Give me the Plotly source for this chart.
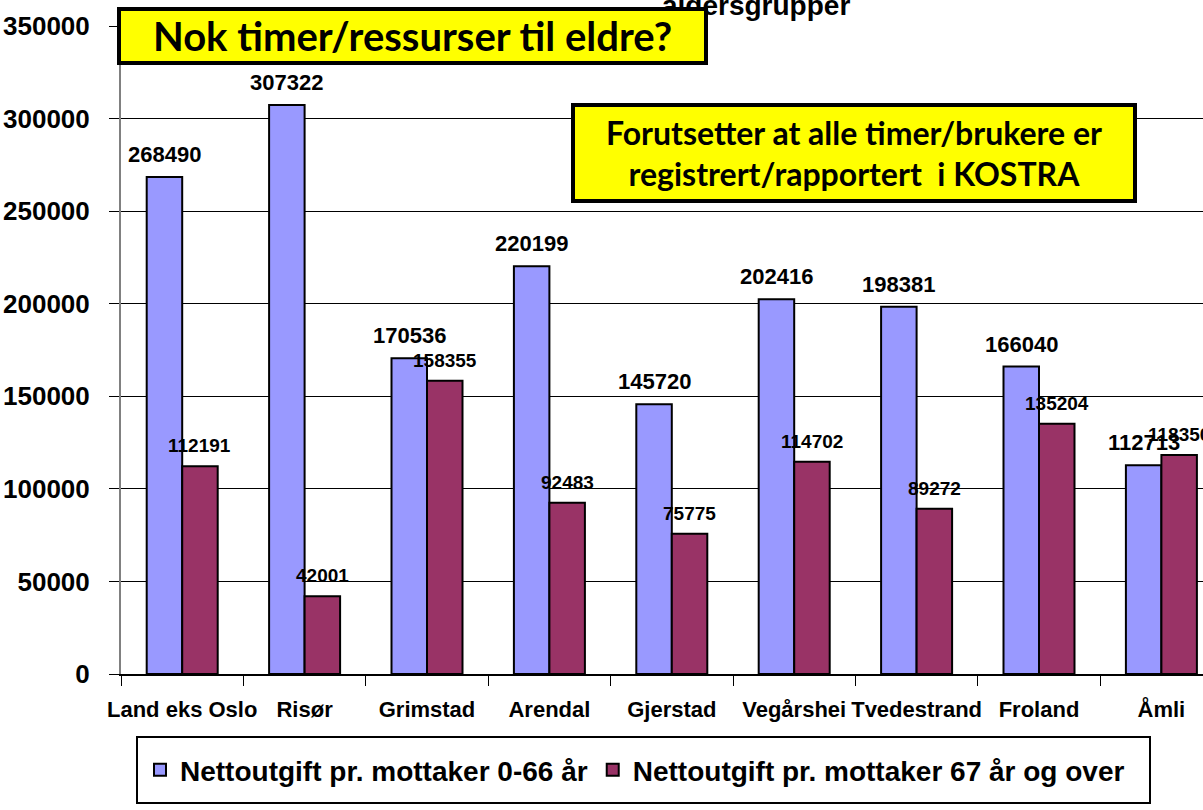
import plotly.graph_objects as go

categories = ["Land eks Oslo", "Risør", "Grimstad", "Arendal", "Gjerstad",
              "Vegårshei", "Tvedestrand", "Froland", "Åmli"]
under67 = [268490, 307322, 170536, 220199, 145720, 202416, 198381, 166040, 112713]
over67 = [112191, 42001, 158355, 92483, 75775, 114702, 89272, 135204, 118350]
series_names = ["Nettoutgift pr. mottaker 0-66 år", "Nettoutgift pr. mottaker 67 år og over"]
y_ticks = [0, 50000, 100000, 150000, 200000, 250000, 300000, 350000]

BLUE = "#9999FF"
RED = "#993366"
FONT = "Liberation Sans"
BARGAP = 0.42

W, H = 1203, 810
L, R, T, B = 121, 0, 26, 136
plot_w = W - L - R
plot_h = H - T - B
cat_px = 122.4


def px_x(px):
    return (px - L) / plot_w


def px_y(py):
    return (H - B - py) / plot_h


fig = go.Figure()
fig.add_trace(go.Bar(x=categories, y=under67, name=series_names[0],
                     marker=dict(color=BLUE, line=dict(color="black", width=2))))
fig.add_trace(go.Bar(x=categories, y=over67, name=series_names[1],
                     marker=dict(color=RED, line=dict(color="black", width=2))))

annotations = []
off = (1 - BARGAP) / 4
for i, v in enumerate(under67):
    annotations.append(dict(x=i - off, y=v, xref="x", yref="y", text=str(v),
                            showarrow=False, yanchor="bottom", yshift=8,
                            font=dict(family=FONT, size=22, color="black", weight="bold")))
for i, v in enumerate(over67):
    annotations.append(dict(x=i + off, y=v, xref="x", yref="y", text=str(v),
                            showarrow=False, yanchor="bottom", yshift=8,
                            font=dict(family=FONT, size=19, color="black", weight="bold")))

# partially visible chart title at the very top
annotations.append(dict(x=px_x(852), y=px_y(23), xref="paper", yref="paper",
                        text="aldersgrupper", showarrow=False,
                        xanchor="right", yanchor="bottom",
                        font=dict(family=FONT, size=28, color="black", weight="bold")))
# yellow boxes
annotations.append(dict(x=px_x(117), y=px_y(7), xref="paper", yref="paper",
                        text="Nok timer/ressurser til eldre?", showarrow=False,
                        xanchor="left", yanchor="top", width=583, height=50,
                        bgcolor="#FFFF00", bordercolor="black", borderwidth=4, borderpad=0,
                        font=dict(family="Lato", size=40, color="black", weight="bold")))
annotations.append(dict(x=px_x(571), y=px_y(103), xref="paper", yref="paper",
                        text="Forutsetter at alle timer/brukere er<br>registrert/rapportert  i KOSTRA",
                        showarrow=False, xanchor="left", yanchor="top", width=558, height=92,
                        bgcolor="#FFFF00", bordercolor="black", borderwidth=4, borderpad=0,
                        font=dict(family="Lato", size=32, color="black", weight="bold")))

shapes = [dict(type="rect", xref="paper", yref="paper",
               x0=px_x(137), x1=px_x(1150), y0=px_y(803), y1=px_y(737),
               line=dict(color="black", width=2), fillcolor="rgba(0,0,0,0)")]

fig.update_layout(
    width=W, height=H,
    margin=dict(l=L, r=R, t=T, b=B, autoexpand=False),
    paper_bgcolor="white", plot_bgcolor="white",
    barmode="group", bargap=BARGAP, bargroupgap=0,
    showlegend=True,
    legend=dict(orientation="h", x=px_x(140), y=px_y(770), xanchor="left", yanchor="middle",
                borderwidth=0, bgcolor="rgba(0,0,0,0)",
                font=dict(family=FONT, size=28, color="black", weight="bold"),
                itemwidth=30),
    annotations=annotations,
    shapes=shapes,
    xaxis=dict(range=[-0.5, -0.5 + plot_w / cat_px], showline=True, linecolor="black",
               linewidth=2, ticks="outside", tickson="boundaries", ticklen=10,
               tickcolor="black", tickwidth=1, showgrid=False, tickangle=0,
               automargin=False,
               tickfont=dict(family=FONT, size=22, color="black", weight="bold"),
               ticklabelstandoff=15),
    yaxis=dict(range=[0, 350000], tickvals=y_ticks, tickformat="d",
               showline=True, linecolor="#808080", linewidth=2, automargin=False,
               ticks="outside", ticklen=10, tickcolor="black",
               showgrid=True, gridcolor="black", gridwidth=1, zeroline=False,
               tickfont=dict(family=FONT, size=26, color="black", weight="bold"),
               ticklabelstandoff=14),
)

fig.write_html("out.html")
